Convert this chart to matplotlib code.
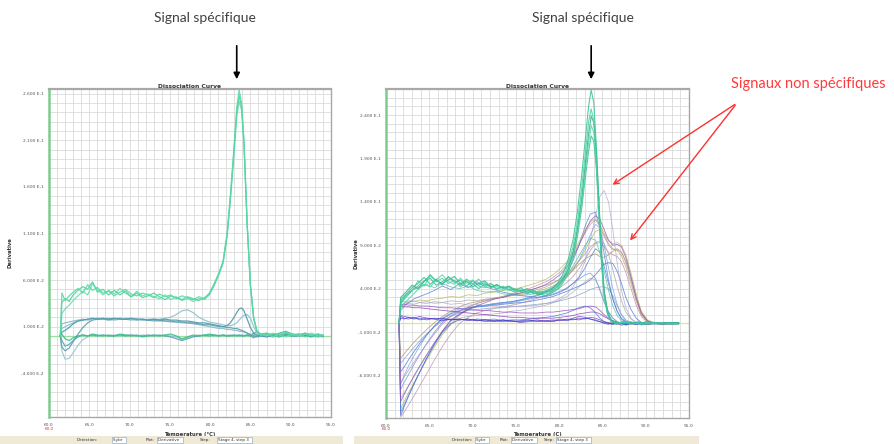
import numpy as np
import matplotlib
matplotlib.use("Agg")
import matplotlib.pyplot as plt
from matplotlib.ticker import MultipleLocator, FixedLocator, FuncFormatter

W, H = 895, 444

# Dérivée exprimée en unités de 1e-2, température en °C.
x_ticks = [60, 65, 70, 75, 80, 85, 90, 95]
y_ticks_left = [26, 21, 16, 11, 6, 1, -4]
y_ticks_right = [24, 19, 14, 9, 4, -1, -6]

# ---------- panneau gauche ----------
t_left = [61.4, 61.6, 62.0, 62.5, 63.0, 63.6, 64.2, 64.8, 65.4, 66.0,
          66.7, 67.4, 68.1, 68.8, 69.5, 70.2, 70.9, 71.6, 72.3, 73.0,
          73.7, 74.4, 75.1, 75.8, 76.5, 77.2, 77.9, 78.6, 79.3, 79.9,
          80.5, 81.1, 81.6, 82.1, 82.5, 82.9, 83.3, 83.6, 83.9, 84.2,
          84.6, 85.0, 85.4, 85.8, 86.3, 87.0, 87.8, 88.6, 89.4, 90.2,
          91.0, 91.8, 92.6, 93.4, 94.0]

left_green_a = [0.0, 4.6, 3.8, 4.3, 4.7, 5.1, 4.6, 5.5, 4.9, 5.2,
                4.6, 4.8, 4.3, 4.7, 5.0, 4.5, 4.3, 4.6, 4.4, 4.1,
                4.5, 4.2, 4.4, 4.0, 4.3, 4.1, 3.9, 4.2, 4.0, 4.6,
                5.6, 6.8, 8.0, 11.0, 15.0, 19.5, 24.5, 26.4, 25.0, 21.0,
                12.0, 5.5, 2.0, 0.6, 0.1, 0.3, -0.1, 0.2, 0.4, 0.1,
                0.2, -0.1, 0.1, 0.2, 0.0]
left_green_b = [0.0, 2.4, 2.9, 3.3, 3.8, 4.3, 4.8, 4.4, 5.6, 5.0,
                4.4, 4.9, 4.5, 5.1, 4.6, 4.2, 4.8, 4.3, 4.5, 4.2,
                4.0, 4.4, 3.9, 4.2, 3.8, 4.0, 3.7, 4.0, 3.9, 4.4,
                5.4, 6.6, 7.8, 10.6, 14.4, 18.8, 23.5, 25.2, 24.2, 20.4,
                11.8, 5.3, 1.9, 0.5, 0.2, 0.0, 0.3, 0.1, -0.1, 0.2,
                0.0, 0.2, 0.3, 0.0, 0.1]
left_green_c = [0.0, 3.6, 4.0, 3.7, 4.4, 4.9, 5.3, 5.0, 5.8, 4.7,
                5.0, 4.4, 4.9, 4.4, 4.8, 4.2, 4.6, 4.1, 4.3, 4.6,
                4.2, 3.9, 4.3, 4.1, 3.9, 4.2, 4.0, 3.8, 4.1, 4.5,
                5.5, 6.7, 7.9, 10.8, 14.7, 19.2, 24.0, 25.8, 24.6, 20.7,
                11.9, 5.4, 1.9, 0.5, 0.0, 0.2, 0.1, -0.1, 0.3, 0.0,
                0.1, 0.3, 0.0, -0.1, 0.1]
left_teal_1 = [0.0, 0.8, 1.0, 1.2, 1.4, 1.6, 1.7, 1.8, 1.8, 1.9,
               1.8, 1.9, 1.8, 1.8, 1.9, 1.8, 1.8, 1.7, 1.8, 1.8,
               1.8, 1.9, 2.0, 2.3, 2.7, 2.8, 2.5, 2.0, 1.7, 1.5,
               1.4, 1.3, 1.2, 1.1, 1.1, 1.2, 1.4, 1.7, 2.0, 2.2,
               2.3, 1.9, 1.0, 0.3, 0.0, 0.2, 0.0, 0.1, 0.3, 0.1,
               0.0, 0.2, 0.1, 0.0, 0.1]
left_teal_2 = [0.0, 0.4, 0.6, 0.9, 1.3, 1.6, 1.7, 1.8, 1.9, 1.8,
               1.9, 1.8, 1.9, 1.8, 1.8, 1.9, 1.8, 1.8, 1.7, 1.8,
               1.7, 1.8, 1.7, 1.7, 1.6, 1.6, 1.5, 1.4, 1.4, 1.3,
               1.2, 1.1, 1.0, 1.1, 1.4, 1.9, 2.5, 2.9, 3.0, 2.7,
               1.8, 0.9, 0.3, 0.1, 0.0, -0.1, 0.1, 0.0, 0.2, 0.1,
               0.2, 0.0, -0.1, 0.1, 0.0]
left_teal_3 = [0.0, 1.3, 1.4, 1.5, 1.6, 1.7, 1.8, 1.7, 1.8, 1.9,
               1.8, 1.8, 1.7, 1.8, 1.8, 1.7, 1.8, 1.7, 1.7, 1.6,
               1.6, 1.6, 1.5, 1.5, 1.4, 1.4, 1.3, 1.2, 1.1, 1.0,
               0.9, 0.8, 0.8, 0.7, 0.7, 0.6, 0.6, 0.5, 0.5, 0.4,
               0.3, 0.2, 0.1, 0.0, 0.1, 0.0, -0.1, 0.1, 0.0, 0.2,
               0.1, 0.0, 0.1, 0.0, -0.1]
left_teal_4 = [0.0, -1.2, -1.6, -1.3, -0.6, 0.2, 0.9, 1.4, 1.7, 1.8,
               1.8, 1.7, 1.8, 1.9, 1.8, 1.8, 1.7, 1.8, 1.7, 1.7,
               1.7, 1.6, 1.6, 1.5, 1.5, 1.4, 1.4, 1.3, 1.2, 1.2,
               1.1, 1.0, 1.0, 0.9, 0.9, 0.8, 0.8, 0.7, 0.6, 0.5,
               0.3, 0.1, 0.0, -0.1, 0.0, 0.1, 0.0, -0.1, 0.1, 0.0,
               0.0, 0.1, 0.0, 0.1, 0.0]
left_base_1 = [0.0, -1.6, -2.5, -2.4, -1.8, -1.0, -0.4, -0.1, 0.1, 0.0,
               0.1, 0.0, 0.1, 0.0, 0.1, 0.1, 0.0, 0.1, 0.0, 0.1,
               0.0, 0.1, 0.0, -0.1, -0.4, -0.2, 0.0, 0.1, 0.0, 0.1,
               0.0, 0.1, 0.0, 0.1, 0.0, 0.1, 0.0, 0.1, 0.0, 0.1,
               0.0, 0.1, 0.2, 0.0, 0.1, -0.1, 0.0, 0.2, 0.1, 0.0,
               0.1, 0.0, 0.1, -0.1, 0.0]
left_base_2 = [0.0, 0.2, -0.3, -0.5, -0.2, 0.0, 0.1, 0.0, 0.2, 0.1,
               0.0, 0.1, 0.0, 0.2, 0.1, 0.0, 0.1, -0.1, 0.0, 0.1,
               0.0, 0.1, 0.2, 0.0, -0.3, -0.1, 0.1, 0.0, 0.1, 0.2,
               0.1, 0.0, 0.1, 0.0, 0.1, 0.0, 0.1, 0.0, 0.1, 0.0,
               0.1, 0.0, 0.3, 0.4, 0.2, 0.3, 0.1, 0.3, 0.5, 0.2,
               0.1, 0.3, 0.0, 0.2, 0.0]
left_base_3 = [0.0, -0.5, -1.1, -0.9, -0.5, -0.1, 0.1, 0.0, 0.1, 0.0,
               0.1, 0.0, 0.0, 0.1, 0.0, 0.1, 0.0, 0.0, 0.1, 0.0,
               0.1, 0.0, -0.1, -0.3, -0.5, -0.3, -0.1, 0.0, 0.1, 0.0,
               0.1, 0.0, 0.1, 0.0, 0.0, 0.1, 0.0, 0.1, 0.0, 0.0,
               0.1, 0.0, -0.2, 0.0, 0.1, 0.0, 0.2, 0.0, 0.1, 0.0,
               0.0, 0.1, 0.0, 0.1, 0.0]

left_curves = [
    (left_base_1, "#9cc8d4"), (left_base_3, "#5aa6b4"), (left_base_2, "#3cbf8c"),
    (left_teal_3, "#86bcc8"), (left_teal_4, "#5b9fb0"), (left_teal_1, "#8fc2cd"),
    (left_teal_2, "#4f98aa"),
    (left_green_b, "#6fdcb2"), (left_green_c, "#4fd39e"), (left_green_a, "#5ad8a6"),
]

# ---------- panneau droit ----------
t_green = [61.5, 61.7, 62.3, 63.0, 63.7, 64.4, 65.1, 65.8, 66.5, 67.2,
           67.9, 68.6, 69.3, 70.0, 70.7, 71.4, 72.1, 72.8, 73.5, 74.2,
           74.9, 75.6, 76.3, 77.0, 77.7, 78.4, 79.1, 79.8, 80.4, 81.0,
           81.6, 82.1, 82.6, 83.0, 83.4, 83.7, 84.0, 84.3, 84.6, 84.9,
           85.2, 85.6, 86.0, 86.6, 87.4, 88.3, 89.2, 90.1, 91.0, 91.9,
           92.8, 93.8]

right_green_1 = [0.0, 2.6, 3.3, 4.1, 4.6, 5.3, 4.5, 5.1, 4.4, 5.4,
                 4.7, 5.0, 4.3, 4.9, 4.4, 4.7, 4.1, 4.5, 4.0, 4.2,
                 3.8, 4.1, 3.6, 3.8, 3.5, 3.7, 3.9, 4.6, 5.6, 7.2,
                 9.6, 12.8, 17.0, 21.0, 25.0, 26.9, 25.4, 20.5, 13.8, 7.6,
                 3.6, 1.2, 0.3, -0.1, 0.2, 0.0, 0.2, -0.1, 0.1, 0.0,
                 0.1, 0.0]
right_green_2 = [0.0, 2.2, 3.0, 3.7, 4.9, 4.3, 5.5, 4.8, 5.2, 4.6,
                 5.0, 4.2, 4.8, 4.5, 5.1, 4.3, 4.6, 3.9, 4.3, 3.8,
                 4.0, 3.6, 3.9, 3.4, 3.7, 3.5, 3.8, 4.3, 5.2, 6.6,
                 8.8, 11.6, 15.5, 19.4, 23.2, 24.7, 23.4, 19.0, 12.6, 6.9,
                 3.1, 1.0, 0.2, 0.0, 0.1, 0.2, -0.1, 0.1, 0.0, 0.1,
                 -0.1, 0.0]
right_green_3 = [0.0, 3.0, 3.6, 4.4, 4.0, 4.8, 5.6, 4.9, 4.6, 5.0,
                 5.4, 4.6, 4.9, 4.2, 4.6, 4.9, 4.2, 4.4, 4.1, 4.3,
                 3.9, 3.7, 4.0, 3.5, 3.3, 3.6, 3.7, 4.2, 5.0, 6.2,
                 8.2, 10.8, 14.4, 18.2, 21.8, 23.9, 23.1, 19.6, 13.9, 8.0,
                 3.8, 1.4, 0.4, 0.1, -0.1, 0.1, 0.0, 0.2, 0.0, -0.1,
                 0.0, 0.1]
right_green_4 = [0.0, 1.8, 2.5, 3.2, 3.9, 4.5, 4.2, 5.0, 5.6, 4.8,
                 4.5, 5.2, 4.6, 5.0, 4.3, 4.1, 4.6, 4.2, 3.8, 4.1,
                 3.7, 3.9, 3.5, 3.6, 3.3, 3.4, 3.6, 4.0, 4.8, 6.0,
                 7.9, 10.4, 13.8, 17.4, 20.8, 22.8, 22.0, 18.4, 12.8, 7.2,
                 3.3, 1.2, 0.3, 0.0, 0.2, -0.1, 0.1, 0.0, 0.1, 0.0,
                 0.0, -0.1]
right_green_5 = [0.0, 2.4, 3.1, 3.8, 4.3, 4.9, 5.2, 4.4, 4.8, 5.3,
                 4.9, 4.4, 5.1, 4.6, 4.0, 4.5, 4.3, 4.0, 4.2, 3.9,
                 3.6, 3.8, 3.4, 3.7, 3.4, 3.2, 3.5, 3.9, 4.6, 5.7,
                 7.5, 9.9, 13.2, 16.6, 19.8, 21.6, 21.0, 17.8, 12.4, 7.0,
                 3.2, 1.1, 0.2, 0.1, 0.0, 0.1, 0.0, -0.1, 0.1, 0.0,
                 0.1, 0.0]

t_other = [61.5, 61.7, 62.1, 62.6, 63.2, 63.9, 64.7, 65.6, 66.5, 67.5,
           68.5, 69.5, 70.5, 71.5, 72.5, 73.5, 74.5, 75.5, 76.5, 77.5,
           78.5, 79.3, 80.1, 80.9, 81.6, 82.3, 83.0, 83.6, 84.2, 84.7,
           85.2, 85.7, 86.2, 86.7, 87.2, 87.7, 88.3, 88.9, 89.5, 90.2,
           91.0, 92.0, 93.0, 93.8]

ns_lavender = [0.0, 2.6, 2.5, 2.4, 2.6, 2.4, 2.5, 2.3, 2.4, 2.2,
               2.3, 2.1, 2.2, 2.0, 2.1, 1.9, 2.0, 1.9, 2.0, 2.1,
               2.3, 2.5, 2.9, 3.4, 4.2, 5.4, 7.2, 9.6, 12.4, 14.6,
               15.3, 14.0, 10.8, 7.0, 3.8, 1.8, 0.6, 0.1, -0.2, 0.0,
               0.1, -0.1, 0.0, 0.0]
ns_purple = [0.0, -9.0, -8.2, -7.2, -6.1, -4.9, -3.6, -2.2, -0.9, 0.3,
             1.0, 1.6, 2.0, 2.4, 2.8, 3.0, 3.3, 3.5, 3.8, 4.1,
             4.5, 5.0, 5.6, 6.5, 7.6, 9.0, 10.6, 11.8, 12.4, 12.0,
             10.8, 9.6, 9.0, 9.1, 8.8, 7.6, 5.4, 3.0, 1.2, 0.3,
             0.0, 0.1, -0.1, 0.0]
ns_olive = [0.0, 1.8, 2.3, 2.6, 2.5, 2.7, 2.6, 2.8, 2.9, 3.1,
            3.0, 3.3, 3.2, 3.5, 3.6, 3.8, 3.9, 4.1, 4.4, 4.7,
            5.1, 5.6, 6.3, 7.1, 8.2, 9.4, 10.8, 11.7, 12.0, 11.4,
            10.4, 9.5, 9.2, 9.3, 9.0, 7.9, 5.8, 3.4, 1.4, 0.4,
            0.1, 0.0, 0.1, 0.0]
ns_mauve = [0.0, -6.8, -6.2, -5.4, -4.5, -3.5, -2.4, -1.2, -0.1, 0.8,
            1.4, 1.9, 2.3, 2.6, 2.8, 3.1, 3.4, 3.7, 4.0, 4.4,
            4.8, 5.3, 5.9, 6.8, 7.9, 9.1, 10.4, 11.4, 11.9, 11.2,
            10.0, 9.0, 8.5, 8.6, 8.2, 7.0, 5.0, 2.7, 1.0, 0.2,
            0.0, -0.1, 0.0, 0.1]
ns_blue_1 = [0.0, -10.2, -9.4, -8.3, -7.0, -5.6, -4.0, -2.4, -0.9, 0.4,
             1.1, 1.6, 2.0, 2.1, 2.3, 2.4, 2.5, 2.7, 2.9, 3.2,
             3.6, 4.1, 4.8, 5.8, 7.2, 9.0, 11.2, 12.6, 12.8, 11.0,
             8.0, 5.0, 2.8, 1.4, 0.6, 0.2, 0.0, -0.1, 0.0, 0.1,
             0.0, 0.0, -0.1, 0.0]
ns_blue_2 = [0.0, -7.6, -6.8, -5.9, -4.8, -3.6, -2.3, -1.0, 0.1, 0.9,
             1.4, 1.7, 1.9, 2.0, 2.2, 2.3, 2.4, 2.6, 2.8, 3.0,
             3.2, 3.4, 3.7, 4.1, 4.6, 5.1, 5.6, 5.8, 5.2, 3.8,
             2.4, 1.3, 0.6, 0.2, 0.0, -0.1, 0.0, 0.1, 0.0, 0.0,
             0.1, 0.0, 0.0, -0.1]
ns_blue_3 = [0.0, -5.6, -5.0, -4.2, -3.3, -2.3, -1.3, -0.3, 0.5, 1.1,
             1.5, 1.8, 1.9, 2.0, 2.1, 2.2, 2.3, 2.4, 2.5, 2.7,
             2.9, 3.1, 3.4, 3.7, 4.0, 4.3, 4.6, 5.0, 5.6, 6.2,
             6.8, 7.0, 6.9, 6.0, 4.6, 3.0, 1.6, 0.6, 0.1, 0.0,
             -0.1, 0.0, 0.1, 0.0]
ns_gray = [0.0, 2.0, 2.2, 2.3, 2.2, 2.4, 2.3, 2.5, 2.4, 2.6,
           2.5, 2.7, 2.6, 2.8, 2.9, 3.0, 3.2, 3.4, 3.6, 3.9,
           4.2, 4.6, 5.1, 5.7, 6.4, 7.2, 8.0, 8.8, 9.3, 9.5,
           9.2, 8.0, 6.2, 4.3, 2.6, 1.3, 0.5, 0.1, 0.0, 0.1,
           0.0, 0.0, 0.1, 0.0]
ns_brown = [0.0, -4.0, -3.5, -2.9, -2.2, -1.5, -0.7, 0.1, 0.8, 1.4,
            1.9, 2.3, 2.5, 2.7, 2.9, 3.1, 3.3, 3.5, 3.8, 4.1,
            4.4, 4.7, 5.1, 5.6, 6.1, 6.8, 7.4, 7.8, 8.0, 7.7,
            7.6, 7.9, 8.3, 8.5, 8.2, 7.2, 5.2, 3.0, 1.2, 0.3,
            0.0, 0.1, 0.0, 0.0]
ns_bluegray = [0.0, -4.6, -4.1, -3.5, -2.8, -2.0, -1.2, -0.4, 0.3, 0.8,
               1.2, 1.5, 1.6, 1.7, 1.8, 1.8, 1.9, 2.0, 2.1, 2.2,
               2.3, 2.4, 2.6, 2.8, 3.0, 3.3, 3.6, 3.9, 4.1, 4.2,
               4.2, 4.0, 3.2, 2.0, 1.0, 0.4, 0.1, 0.0, -0.1, 0.0,
               0.1, 0.0, 0.0, 0.0]
ns_violet_1 = [0.0, 2.0, 1.9, 1.9, 1.8, 1.8, 1.7, 1.6, 1.5, 1.4,
               1.3, 1.2, 1.1, 1.0, 0.9, 0.8, 0.7, 0.7, 0.6, 0.6,
               0.6, 0.6, 0.7, 0.8, 0.9, 1.1, 1.2, 1.3, 1.3, 1.1,
               0.8, 0.5, 0.3, 0.1, 0.0, -0.1, 0.0, 0.1, 0.0, -0.1,
               0.0, 0.1, 0.0, 0.0]
ns_violet_2 = [0.0, 2.2, 2.2, 2.1, 2.1, 2.0, 2.0, 1.9, 1.8, 1.8,
               1.7, 1.6, 1.5, 1.5, 1.4, 1.3, 1.3, 1.2, 1.2, 1.2,
               1.3, 1.3, 1.4, 1.5, 1.6, 1.7, 1.9, 2.0, 1.9, 1.5,
               1.0, 0.6, 0.3, 0.1, 0.0, 0.1, 0.0, -0.1, 0.0, 0.0,
               0.1, 0.0, 0.0, -0.1]
base_blue_1 = [0.0, 0.6, 0.5, 0.7, 0.5, 0.6, 0.4, 0.6, 0.5, 0.4,
               0.5, 0.3, 0.5, 0.4, 0.3, 0.4, 0.2, 0.3, 0.4, 0.2,
               0.3, 0.2, 0.4, 0.3, 0.5, 0.4, 0.6, 0.5, 0.3, 0.2,
               0.1, 0.0, -0.1, 0.1, 0.0, -0.2, 0.0, 0.1, -0.1, 0.0,
               0.1, 0.0, 0.1, 0.0]
base_blue_2 = [0.0, 0.8, 0.6, 0.5, 0.7, 0.4, 0.6, 0.5, 0.3, 0.5,
               0.4, 0.5, 0.3, 0.4, 0.2, 0.4, 0.3, 0.2, 0.3, 0.4,
               0.2, 0.3, 0.5, 0.4, 0.6, 0.8, 0.7, 0.5, 0.4, 0.2,
               0.0, -0.1, 0.1, 0.0, -0.2, -0.1, 0.0, 0.1, 0.0, -0.1,
               0.0, 0.1, 0.0, 0.0]
base_violet = [0.0, 0.9, 0.8, 0.7, 0.6, 0.8, 0.6, 0.5, 0.6, 0.4,
               0.5, 0.4, 0.4, 0.2, 0.3, 0.2, 0.3, 0.1, 0.2, 0.3,
               0.3, 0.4, 0.3, 0.5, 0.4, 0.6, 0.5, 0.7, 0.6, 0.4,
               0.2, 0.1, 0.0, -0.1, 0.0, 0.1, -0.1, 0.0, 0.1, 0.0,
               0.0, -0.1, 0.0, 0.0]
dip_blue = [0.0, -10.6, -9.6, -8.4, -7.1, -5.6, -4.0, -2.4, -1.0, 0.0,
            0.4, 0.5, 0.3, 0.4, 0.5, 0.3, 0.4, 0.4, 0.5, 0.6,
            0.7, 0.8, 1.0, 1.2, 1.5, 1.8, 2.0, 1.8, 1.2, 0.6,
            0.2, 0.0, -0.1, 0.0, 0.1, 0.0, 0.0, -0.1, 0.0, 0.1,
            0.0, 0.0, -0.1, 0.0]
dip_gray = [0.0, -8.6, -8.0, -7.2, -6.2, -5.0, -3.7, -2.3, -1.1, -0.1,
            0.6, 0.8, 0.9, 1.0, 1.1, 1.2, 1.4, 1.5, 1.7, 1.9,
            2.1, 2.4, 2.7, 3.1, 3.6, 4.2, 4.8, 5.2, 5.0, 4.0,
            2.6, 1.4, 0.6, 0.2, 0.0, 0.1, 0.0, -0.1, 0.0, 0.0,
            0.1, 0.0, 0.0, 0.0]
dip_olive = [0.0, -9.8, -9.0, -8.0, -6.9, -5.6, -4.2, -2.7, -1.3, -0.1,
             1.0, 1.8, 2.3, 2.6, 2.9, 3.0, 3.2, 3.3, 3.5, 3.7,
             4.0, 4.3, 4.8, 5.4, 6.2, 7.2, 8.4, 9.6, 10.6, 10.8,
             10.2, 9.2, 8.6, 8.4, 7.8, 6.5, 4.6, 2.6, 1.0, 0.2,
             0.0, 0.1, 0.0, 0.0]
dip_lightblue = [0.0, -7.0, -6.0, -4.9, -3.8, -2.6, -1.4, -0.3, 0.6, 1.2,
                 1.7, 1.8, 2.0, 2.1, 2.2, 2.4, 2.5, 2.7, 3.0, 3.3,
                 3.7, 4.1, 4.6, 5.3, 6.2, 7.3, 8.8, 10.2, 11.4, 11.0,
                 9.0, 6.4, 4.0, 2.2, 1.0, 0.3, 0.0, 0.1, 0.0, -0.1,
                 0.0, 0.0, 0.1, 0.0]
dip_mauve = [0.0, -10.8, -10.2, -9.4, -8.4, -7.2, -5.8, -4.2, -2.7, -1.2,
             0.0, 0.7, 1.2, 1.5, 1.7, 1.9, 2.1, 2.3, 2.6, 2.9,
             3.2, 3.6, 4.1, 4.7, 5.4, 6.3, 7.4, 8.4, 9.2, 9.3,
             8.8, 8.2, 7.9, 7.7, 7.1, 5.9, 4.0, 2.1, 0.8, 0.1,
             0.0, -0.1, 0.0, 0.0]
noisy_blue = [0.0, 1.5, 2.0, 2.4, 2.8, 3.1, 3.4, 3.8, 4.3, 3.9,
              4.6, 4.1, 4.8, 4.2, 3.9, 3.6, 3.4, 3.2, 3.1, 3.0,
              3.1, 3.3, 3.6, 4.0, 4.6, 5.3, 6.4, 7.6, 8.6, 8.2,
              6.6, 4.6, 2.8, 1.4, 0.5, 0.1, 0.0, -0.1, 0.0, 0.0,
              0.1, 0.0, 0.0, 0.0]
noisy_teal = [0.0, 2.8, 3.2, 3.6, 3.9, 4.2, 4.5, 4.1, 4.6, 4.2,
              4.0, 4.3, 3.8, 3.6, 3.7, 3.4, 3.3, 3.2, 3.3, 3.5,
              3.8, 4.2, 4.8, 5.6, 6.6, 7.8, 9.0, 9.8, 9.6, 8.2,
              6.0, 3.8, 2.0, 0.9, 0.3, 0.0, 0.1, 0.0, -0.1, 0.0,
              0.0, 0.1, 0.0, 0.0]

right_other = [
    (dip_gray, "#a9a9b9"), (dip_mauve, "#b98aa9"), (dip_lightblue, "#6a9ee8"),
    (dip_olive, "#abaa5c"), (dip_blue, "#3a6ad8"), (ns_bluegray, "#7f9cc8"),
    (ns_blue_3, "#3f6fcf"), (ns_blue_2, "#5b8fe0"), (ns_blue_1, "#4c7bd8"),
    (ns_brown, "#a88f5a"), (ns_gray, "#a0a0a8"), (ns_mauve, "#c08bb4"),
    (ns_olive, "#b3b45a"), (ns_purple, "#8e4fae"), (ns_lavender, "#a9a6d0"),
    (noisy_blue, "#4a78d0"), (noisy_teal, "#4dbba0"),
    (ns_violet_2, "#9040c0"), (ns_violet_1, "#8030b0"),
    (base_violet, "#7a2fb8"), (base_blue_2, "#5030c8"), (base_blue_1, "#2f3fd0"),
]
right_green = [
    (right_green_5, "#3fbf95"), (right_green_4, "#5ad6ae"), (right_green_3, "#2fb58a"),
    (right_green_2, "#4fd1a5"), (right_green_1, "#36c496"),
]

# barre d'outils sous chaque capture
toolbar_items = [("Detection:", None), ("Sybr", "box"), ("Plot:", None),
                 ("Derivative", "box"), ("Step:", None), ("Stage 4, step 3", "box")]


def px_box(x0, y0, x1, y1):
    return [x0 / W, 1 - y1 / H, (x1 - x0) / W, (y1 - y0) / H]


def sci_label(v, pos=None):
    val = v / 100.0
    if val == 0:
        return "0.000 E0"
    e = int(np.floor(np.log10(abs(val)) + 1e-9))
    return f"{val / 10 ** e:.3f} E{e}"


def setup_panel(ax, yticks, ylim, xlabel, thr_color, ylab_x, xlab_y):
    ax.set_xlim(60, 95)
    ax.set_ylim(*ylim)
    ax.xaxis.set_major_locator(FixedLocator(x_ticks))
    ax.xaxis.set_minor_locator(MultipleLocator(1))
    ax.yaxis.set_major_locator(FixedLocator(yticks))
    ax.yaxis.set_minor_locator(MultipleLocator(1))
    ax.xaxis.set_major_formatter(FuncFormatter(lambda v, p: f"{v:.1f}"))
    ax.yaxis.set_major_formatter(FuncFormatter(sci_label))
    ax.grid(which="both", color="#dadada", lw=0.6)
    ax.set_axisbelow(True)
    ax.axhline(0, color=thr_color, lw=0.9, zorder=1.5)
    ax.tick_params(which="both", length=0, labelsize=3.2, colors="#555555")
    ax.tick_params(axis="y", pad=4)
    ax.tick_params(axis="x", pad=4)
    for s in ["top", "right", "bottom"]:
        ax.spines[s].set_color("#a8a8a8")
        ax.spines[s].set_linewidth(1.0)
    ax.spines["top"].set_linewidth(1.6)
    ax.spines["left"].set_color("#7fcb8f")
    ax.spines["left"].set_linewidth(1.8)
    ax.set_title("Dissociation Curve", fontsize=4.3, fontweight="bold", pad=0.6, color="#333333")
    ax.set_xlabel(xlabel, fontsize=3.8, fontweight="bold", color="#333333")
    ax.set_ylabel("Derivative", fontsize=3.8, fontweight="bold", color="#333333")
    ax.yaxis.set_label_coords(ylab_x, 0.5)
    ax.xaxis.set_label_coords(0.5, xlab_y)


def draw_toolbar(fig, x0, x1, offsets):
    fig.patches.append(plt.Rectangle((x0 / W, 0), (x1 - x0) / W, 8.5 / H,
                                     transform=fig.transFigure, fc="#efead8", ec="none"))
    for (label, kind), xo in zip(toolbar_items, offsets):
        if kind == "box":
            fig.text(xo / W, 3.8 / H, label + "  ", fontsize=3.0, color="#333333",
                     va="center", ha="left",
                     bbox=dict(boxstyle="square,pad=0.25", fc="white", ec="#7f9db9", lw=0.4))
        else:
            fig.text(xo / W, 3.8 / H, label, fontsize=3.0, color="#333333", va="center", ha="left")


fig = plt.figure(figsize=(W / 100, H / 100), dpi=100)
fig.patch.set_facecolor("white")

ax_l = fig.add_axes(px_box(49, 89, 331, 417))
ax_r = fig.add_axes(px_box(386, 89, 689, 418))

setup_panel(ax_l, y_ticks_left, (-8.7, 26.5), "Temperature (°C)", "#9adf9e", -0.128, -0.046)
setup_panel(ax_r, y_ticks_right, (-10.9, 27.0), "Temperature (C)", "#e3e38c", -0.092, -0.043)

for vals, col in left_curves:
    ax_l.plot(t_left, vals, color=col, lw=0.9, alpha=0.9, zorder=2)
for vals, col in right_other:
    ax_r.plot(t_other, vals, color=col, lw=0.6, alpha=0.75, zorder=2)
for vals, col in right_green:
    ax_r.plot(t_green, vals, color=col, lw=0.8, alpha=0.85, zorder=3)

# second libellé rouge sous la première graduation
fig.text(49 / W, 1 - 429 / H, "60.0", fontsize=3.0, color="#e03030", ha="center", va="center")
fig.text(386 / W, 1 - 429 / H, "60.0", fontsize=3.0, color="#e03030", ha="center", va="center")

draw_toolbar(fig, 0, 343, [77, 113, 146, 158, 200, 218])
draw_toolbar(fig, 354, 699, [452, 476, 500, 512, 544, 557])

# annotations
note_font = ["Lato", "DejaVu Sans"]
fig.text(205 / W, 1 - 18 / H, "Signal spécifique", fontsize=10, color="#404040",
         ha="center", va="center", family=note_font)
fig.text(583 / W, 1 - 18 / H, "Signal spécifique", fontsize=10, color="#404040",
         ha="center", va="center", family=note_font)
fig.text(808 / W, 1 - 84 / H, "Signaux non spécifiques", fontsize=10.5, color="#ff3b3b",
         ha="center", va="center", family=note_font)

black_arrow = dict(arrowstyle="-|>", color="black", lw=1.2, mutation_scale=9)
ax_l.annotate("", xy=(83.3, 1 - 82 / H), xytext=(83.3, 1 - 43 / H),
              xycoords=("data", "figure fraction"), textcoords=("data", "figure fraction"),
              arrowprops=black_arrow, annotation_clip=False)
ax_r.annotate("", xy=(83.7, 1 - 82 / H), xytext=(83.7, 1 - 43 / H),
              xycoords=("data", "figure fraction"), textcoords=("data", "figure fraction"),
              arrowprops=black_arrow, annotation_clip=False)

red_arrow = dict(arrowstyle="->", color="#ff3030", lw=1.0, mutation_scale=9)
for tip in [(85.9, 15.8), (88.0, 9.3)]:
    ax_r.annotate("", xy=tip, xytext=(737 / W, 1 - 103 / H),
                  xycoords="data", textcoords="figure fraction",
                  arrowprops=red_arrow, annotation_clip=False)

fig.savefig("out.png", dpi=100)
